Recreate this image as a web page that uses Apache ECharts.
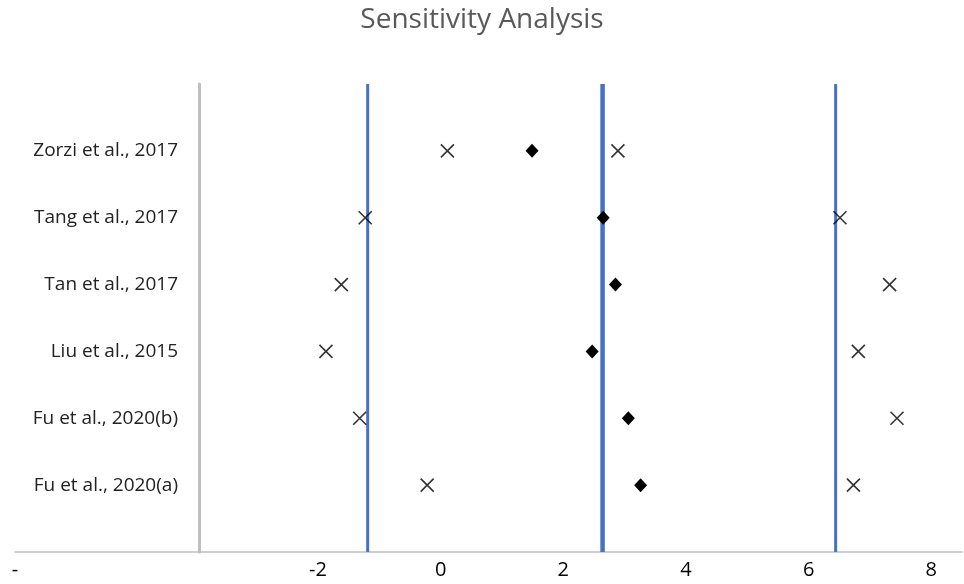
<!DOCTYPE html>
<html><head><meta charset="utf-8">
<script src="https://cdn.jsdelivr.net/npm/echarts@6/dist/echarts.min.js"></script>
<style>html,body{margin:0;padding:0;background:#fff}#c{width:964px;height:584px}</style>
</head><body><div id="c"></div>
<script>
const studies = ["Fu et al., 2020(a)", "Fu et al., 2020(b)", "Liu et al., 2015", "Tan et al., 2017", "Tang et al., 2017", "Zorzi et al., 2017"];
const rowPos = [1, 2, 3, 4, 5, 6];
const estimate = [3.26, 3.06, 2.47, 2.85, 2.65, 1.49];
const lowerCI = [-0.22, -1.32, -1.87, -1.62, -1.23, 0.11];
const upperCI = [6.73, 7.44, 6.81, 7.32, 6.51, 2.89];
const pooledEstimate = 2.64;
const pooledLower = -1.19;
const pooledUpper = 6.44;
const xTicks = [-6.94, -2, 0, 2, 4, 6, 8];
const xMin = -6.94, xMax = 8.5, yMin = 0, yMax = 7;

const chart = echarts.init(document.getElementById('c'));
const font = "'Open Sans', 'Noto Sans', sans-serif";
const vline = (x, w) => ({
  type: 'line', data: [[x, yMin], [x, yMax]], symbol: 'none',
  lineStyle: { color: '#4472C4', width: w }, z: 1, silent: true
});
const cross = 'path://M0,0L10,10M10,0L0,10';
chart.setOption({
  animation: false,
  title: { text: 'Sensitivity Analysis', left: 'center', top: 1,
    textStyle: { fontFamily: font, fontSize: 28, fontWeight: 'normal', color: '#595959' } },
  grid: { left: 15, right: 2, top: 84, bottom: 32 },
  xAxis: {
    type: 'value', min: xMin, max: xMax,
    axisLine: { show: true, lineStyle: { color: '#BFBFBF', width: 1.5 } },
    axisTick: { show: false }, splitLine: { show: false },
    axisLabel: { customValues: xTicks, margin: 8, fontFamily: font, fontSize: 20, color: '#000',
      formatter: v => v < -3 ? '-' : String(Math.round(v)) }
  },
  yAxis: {
    type: 'value', min: yMin, max: yMax, offset: -184,
    axisLine: { show: true, onZero: false, lineStyle: { color: '#BFBFBF', width: 3 } },
    axisTick: { show: false }, splitLine: { show: false },
    axisLabel: { customValues: rowPos, margin: 21, fontFamily: font, fontSize: 19, color: '#222',
      formatter: v => studies[rowPos.indexOf(Math.round(v))] || '' }
  },
  series: [
    vline(pooledLower, 3),
    vline(pooledEstimate, 4.5),
    vline(pooledUpper, 3),
    { type: 'scatter', data: lowerCI.map((v, i) => [v, rowPos[i]]), symbol: cross,
      symbolSize: 13, itemStyle: { color: 'none', borderColor: '#000', borderWidth: 1.6 }, z: 3 },
    { type: 'scatter', data: upperCI.map((v, i) => [v, rowPos[i]]), symbol: cross,
      symbolSize: 13, itemStyle: { color: 'none', borderColor: '#000', borderWidth: 1.6 }, z: 3 },
    { type: 'scatter', data: estimate.map((v, i) => [v, rowPos[i]]), symbol: 'diamond',
      symbolSize: [13, 14], itemStyle: { color: '#000', opacity: 1 }, z: 4 }
  ]
});
</script></body></html>
